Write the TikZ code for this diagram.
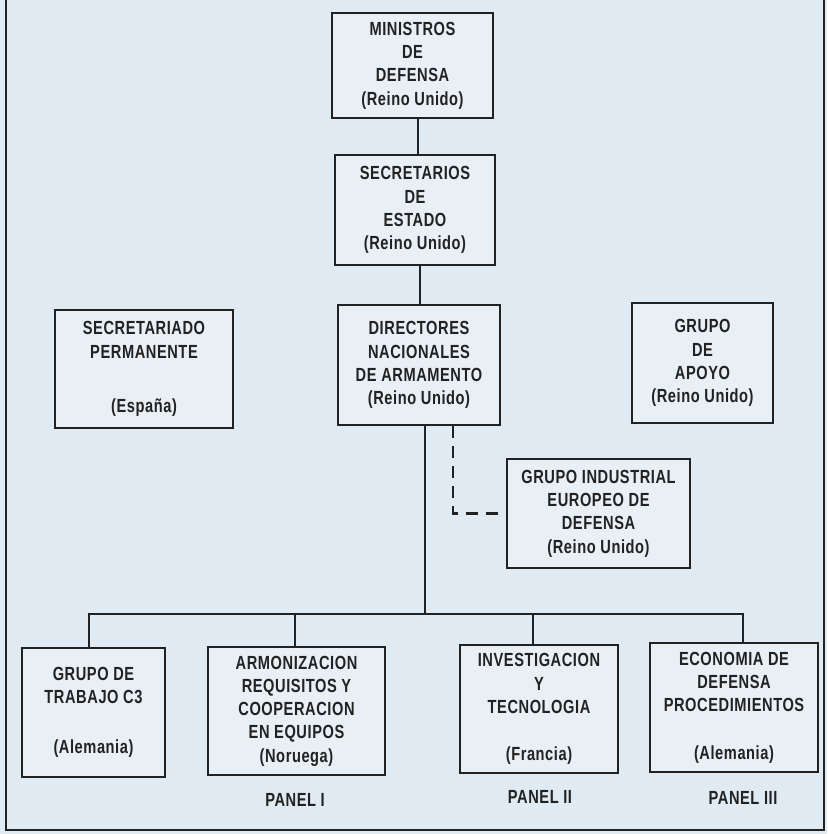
\documentclass[tikz,border=0pt]{standalone}
\usepackage{fontspec}
\newfontfamily\orgfont{Liberation Sans}[FakeStretch=0.77, LetterSpace=3]
\definecolor{bgcol}{HTML}{DFEAF2}
\definecolor{boxcol}{HTML}{E8F0F6}
\definecolor{inkcol}{HTML}{222222}
\tikzset{
  orgbox/.style={draw=inkcol, line width=2.5pt, fill=boxcol, inner sep=0pt,
    align=center, text=inkcol,
    font=\orgfont\bfseries\fontsize{19}{23.3}\selectfont},
  orgline/.style={draw=inkcol, line width=2.3pt},
  orgdash/.style={draw=inkcol, line width=2.3pt, dash pattern=on 12pt off 8pt},
  panellabel/.style={inner sep=0pt, text=inkcol,
    font=\orgfont\bfseries\fontsize{19}{23.3}\selectfont},
  frameline/.style={draw=inkcol, line width=1.6pt}
}
\begin{document}
\begin{tikzpicture}[x=1pt,y=-1pt]
\useasboundingbox (0,0) rectangle (827,834);
\fill[bgcol] (0,0) rectangle (827,834);
% outer frame
\coordinate (ftl) at (6,0);
\coordinate (fbl) at (6,830);
\coordinate (fbr) at (824,830);
\coordinate (ftr) at (824,0);
\draw[frameline] (ftl) -- (fbl) -- (fbr) -- (ftr);

% boxes
\node[orgbox, minimum width=161pt, minimum height=105pt] (min) at (412.5,65.5)
  {MINISTROS\\DE\\DEFENSA\\(Reino Unido)};
\node[orgbox, minimum width=160pt, minimum height=110pt] (sec) at (415,210)
  {SECRETARIOS\\DE\\ESTADO\\(Reino Unido)};
\node[orgbox, minimum width=162pt, minimum height=120pt] (dir) at (419,365)
  {DIRECTORES\\NACIONALES\\DE ARMAMENTO\\(Reino Unido)};
\node[orgbox, minimum width=178pt, minimum height=118pt] (perm) at (144,369)
  {SECRETARIADO\\PERMANENTE\\[31pt](España)};
\node[orgbox, minimum width=141pt, minimum height=120pt] (apoyo) at (702.5,363)
  {GRUPO\\DE\\APOYO\\(Reino Unido)};
\node[orgbox, minimum width=183pt, minimum height=109pt] (ind) at (598.5,513.5)
  {GRUPO INDUSTRIAL\\EUROPEO DE\\DEFENSA\\(Reino Unido)};
\node[orgbox, minimum width=143pt, minimum height=129pt] (b1) at (93.5,712.5)
  {GRUPO DE\\TRABAJO C3\\[27pt](Alemania)};
\node[orgbox, minimum width=177pt, minimum height=128pt] (b2) at (296.5,711)
  {ARMONIZACION\\REQUISITOS Y\\COOPERACION\\EN EQUIPOS\\(Noruega)};
\node[orgbox, minimum width=158pt, minimum height=128pt] (b3) at (539,709)
  {INVESTIGACION\\Y\\TECNOLOGIA\\[24pt](Francia)};
\node[orgbox, minimum width=168pt, minimum height=129pt] (b4) at (734,707.5)
  {ECONOMIA DE\\DEFENSA\\PROCEDIMIENTOS\\[24pt](Alemania)};

% panel labels
\node[panellabel] (p1) at (295,800) {PANEL I};
\node[panellabel] (p2) at (540,797) {PANEL II};
\node[panellabel] (p3) at (743,798) {PANEL III};

% connectors
\draw[orgline] ([xshift=5.5pt]min.south) -- ([xshift=5.5pt]min.south |- sec.north);
\draw[orgline] ([xshift=5pt]sec.south) -- ([xshift=5pt]sec.south |- dir.north);
\coordinate (bus) at (425,614);
\draw[orgline] ([xshift=6pt]dir.south) -- (bus);
\draw[orgline] ([xshift=-4.5pt]b1.north) |- (bus) -| ([xshift=9pt]b4.north);
\draw[orgline] ([xshift=-1.5pt]b2.north) -- ([xshift=-1.5pt]b2.north |- bus);
\draw[orgline] ([xshift=-6pt]b3.north) -- ([xshift=-6pt]b3.north |- bus);
\draw[orgdash] ([xshift=34pt]dir.south) |- (ind.west);
\end{tikzpicture}
\end{document}
